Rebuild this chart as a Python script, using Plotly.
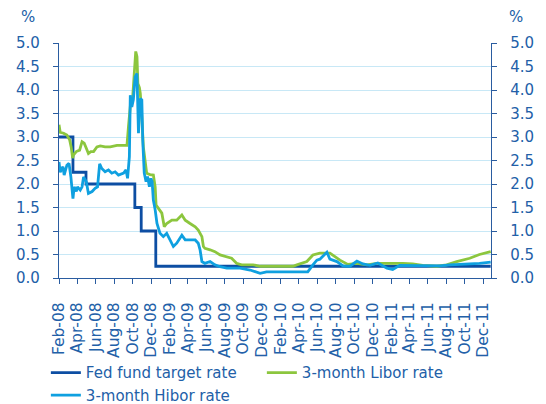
import plotly.graph_objects as go

# ---- data ----
fed_dates = ["2008-02-01", "2008-03-18", "2008-04-30", "2008-10-08", "2008-10-29", "2008-12-16", "2011-12-25"]
fed_vals = [3.0, 2.25, 2.0, 1.5, 1.0, 0.25, 0.25]

libor_dates = ["2008-02-01", "2008-02-05", "2008-02-16", "2008-02-27", "2008-03-07", "2008-03-12", "2008-03-17",
               "2008-03-20", "2008-03-29", "2008-04-09", "2008-04-17", "2008-04-24", "2008-05-01", "2008-05-08",
               "2008-05-16", "2008-05-25", "2008-06-05", "2008-06-16", "2008-07-02", "2008-07-19", "2008-08-10",
               "2008-09-12", "2008-09-17", "2008-09-25", "2008-10-01", "2008-10-07", "2008-10-11", "2008-10-15",
               "2008-10-18", "2008-10-23", "2008-10-26", "2008-10-31", "2008-11-05", "2008-11-16", "2008-11-27",
               "2008-12-08", "2008-12-14", "2008-12-17", "2008-12-25", "2009-01-05", "2009-01-13", "2009-01-21",
               "2009-02-07", "2009-02-23", "2009-03-12", "2009-03-23", "2009-04-08", "2009-04-25", "2009-05-05",
               "2009-05-17", "2009-05-22", "2009-05-27", "2009-06-13", "2009-06-29", "2009-07-16", "2009-08-07",
               "2009-08-23", "2009-09-09", "2009-09-25", "2009-11-02", "2009-11-25", "2010-01-29", "2010-03-13",
               "2010-03-26", "2010-04-28", "2010-05-18", "2010-06-10", "2010-07-13", "2010-08-15", "2010-09-10",
               "2010-10-10", "2010-11-12", "2010-12-15", "2011-03-10", "2011-04-12", "2011-05-15", "2011-06-30",
               "2011-08-02", "2011-09-04", "2011-10-17", "2011-11-18", "2011-12-25"]
libor_vals = [3.26, 3.10, 3.08, 3.04, 2.94, 2.79, 2.55,
              2.62, 2.69, 2.72, 2.90, 2.87, 2.76, 2.65,
              2.69, 2.69, 2.79, 2.81, 2.79, 2.79, 2.82,
              2.82, 3.22, 3.79, 3.86, 4.57, 4.82, 4.71,
              4.14, 4.05, 3.93, 3.43, 2.79, 2.23, 2.20,
              2.19, 1.94, 1.55, 1.48, 1.38, 1.09, 1.16,
              1.23, 1.23, 1.34, 1.23, 1.16, 1.09, 1.02,
              0.88, 0.67, 0.63, 0.60, 0.56, 0.49, 0.45,
              0.42, 0.31, 0.28, 0.28, 0.25, 0.25, 0.25,
              0.28, 0.35, 0.49, 0.53, 0.53, 0.38, 0.29,
              0.31, 0.28, 0.31, 0.31, 0.30, 0.27, 0.25,
              0.28, 0.35, 0.42, 0.50, 0.56]

hibor_dates = ["2008-02-01", "2008-02-05", "2008-02-14", "2008-02-18", "2008-02-27", "2008-03-05", "2008-03-11",
               "2008-03-18", "2008-03-22", "2008-03-29", "2008-04-02", "2008-04-11", "2008-04-17", "2008-04-22",
               "2008-05-01", "2008-05-08", "2008-05-20", "2008-05-30", "2008-06-07", "2008-06-14", "2008-06-21",
               "2008-07-02", "2008-07-13", "2008-07-24", "2008-08-04", "2008-08-15", "2008-09-01", "2008-09-09",
               "2008-09-14", "2008-09-20", "2008-09-23", "2008-09-28", "2008-10-03", "2008-10-09", "2008-10-15",
               "2008-10-20", "2008-10-26", "2008-10-31", "2008-11-03", "2008-11-08", "2008-11-14", "2008-11-19",
               "2008-11-25", "2008-11-30", "2008-12-04", "2008-12-08", "2008-12-14", "2008-12-20", "2008-12-30",
               "2009-01-10", "2009-01-21", "2009-02-01", "2009-02-12", "2009-02-23", "2009-03-12", "2009-03-23",
               "2009-04-08", "2009-04-25", "2009-05-05", "2009-05-11", "2009-05-17", "2009-05-27", "2009-06-13",
               "2009-06-29", "2009-07-16", "2009-08-07", "2009-08-29", "2009-09-20", "2009-10-23", "2009-11-25",
               "2009-12-16", "2010-01-29", "2010-03-26", "2010-05-01", "2010-05-18", "2010-05-31", "2010-06-10",
               "2010-07-03", "2010-07-13", "2010-08-05", "2010-08-25", "2010-09-17", "2010-10-10", "2010-10-30",
               "2010-11-22", "2010-12-18", "2011-01-17", "2011-02-05", "2011-02-28", "2011-04-02", "2011-05-15",
               "2011-07-10", "2011-08-12", "2011-10-07", "2011-11-18", "2011-12-25"]
hibor_vals = [2.47, 2.25, 2.37, 2.19, 2.40, 2.44, 2.16,
              1.69, 1.94, 1.84, 1.94, 1.87, 1.94, 2.15,
              2.05, 1.80, 1.84, 1.91, 1.94, 2.43, 2.33,
              2.26, 2.30, 2.23, 2.26, 2.19, 2.23, 2.30,
              2.12, 2.58, 3.89, 3.64, 3.79, 4.28, 4.35,
              3.08, 3.82, 3.79, 2.94, 2.23, 2.05, 2.16,
              1.94, 2.12, 2.05, 1.66, 1.45, 1.16, 0.95,
              0.88, 0.95, 0.81, 0.67, 0.74, 0.91, 0.81,
              0.81, 0.81, 0.74, 0.60, 0.35, 0.31, 0.35,
              0.28, 0.24, 0.21, 0.21, 0.21, 0.17, 0.10,
              0.13, 0.13, 0.12, 0.13, 0.28, 0.38, 0.40,
              0.55, 0.40, 0.35, 0.26, 0.25, 0.36, 0.30,
              0.27, 0.32, 0.21, 0.18, 0.27, 0.27, 0.26,
              0.26, 0.28, 0.30, 0.31, 0.34]

x_range = ["2008-02-01", "2011-12-26"]
y_ticks = [0.0, 0.5, 1.0, 1.5, 2.0, 2.5, 3.0, 3.5, 4.0, 4.5, 5.0]

# ---- style ----
FONT = "DejaVu Sans"
TXT = "#2260a8"
AXC = "#2a5ca0"
GRID = "#c8e8f6"
C_FED = "#0d4ea3"
C_LIB = "#8cc63e"
C_HIB = "#0fa0e0"

fig = go.Figure()
fig.add_trace(go.Scatter(x=fed_dates, y=fed_vals, name="Fed fund target rate", mode="lines",
                         line=dict(color=C_FED, width=2.8, shape="hv")))
fig.add_trace(go.Scatter(x=libor_dates, y=libor_vals, name="3-month Libor rate", mode="lines",
                         line=dict(color=C_LIB, width=2.8)))
fig.add_trace(go.Scatter(x=hibor_dates, y=hibor_vals, name="3-month Hibor rate", mode="lines",
                         line=dict(color=C_HIB, width=2.8)))
fig.add_trace(go.Scatter(x=fed_dates, y=fed_vals, yaxis="y2", mode="lines", showlegend=False,
                         hoverinfo="skip", line=dict(color="rgba(0,0,0,0)", width=0)))

yax = dict(range=[0, 5], tickvals=y_ticks, tickformat=".1f", showgrid=True, gridcolor=GRID,
           gridwidth=1, showline=True, linecolor=AXC, linewidth=1.3, ticks="outside", ticklen=5,
           tickcolor=AXC, tickfont=dict(family=FONT, size=15, color=TXT), zeroline=False,
           ticklabelstandoff=10, fixedrange=True, automargin=False)

fig.update_layout(
    width=546, height=404,
    margin=dict(l=59, r=55, t=43, b=126),
    paper_bgcolor="white", plot_bgcolor="white",
    font=dict(family=FONT, size=15, color=TXT),
    xaxis=dict(type="date", range=x_range, tick0="2008-02-01", dtick="M2", tickformat="%b-%y",
               tickangle=-90, showgrid=False, showline=True, linecolor=AXC, linewidth=1.3,
               ticks="outside", ticklen=5, tickcolor=AXC, zeroline=False, automargin=False,
               ticklabelstandoff=12, fixedrange=True,
               tickfont=dict(family=FONT, size=15.5, color=TXT)),
    yaxis=yax,
    yaxis2=dict(yax, overlaying="y", side="right", showgrid=False, matches="y"),
    showlegend=True,
    legend=dict(orientation="h", xref="container", yref="container", x=0.084, y=0.118,
                yanchor="top", xanchor="left",
                font=dict(family=FONT, size=15, color=TXT), entrywidth=171, entrywidthmode="pixels",
                tracegroupgap=0, itemwidth=30, bgcolor="rgba(0,0,0,0)"),
    annotations=[
        dict(text="%", xref="paper", yref="paper", x=-0.072, y=1.11, showarrow=False,
             xanchor="center", yanchor="middle", font=dict(family=FONT, size=15, color=TXT)),
        dict(text="%", xref="paper", yref="paper", x=1.059, y=1.11, showarrow=False,
             xanchor="center", yanchor="middle", font=dict(family=FONT, size=15, color=TXT)),
    ],
)

fig.write_html("out.html", config={"displayModeBar": False},
               post_script="document.body.style.margin='0';document.body.style.overflow='hidden';")
